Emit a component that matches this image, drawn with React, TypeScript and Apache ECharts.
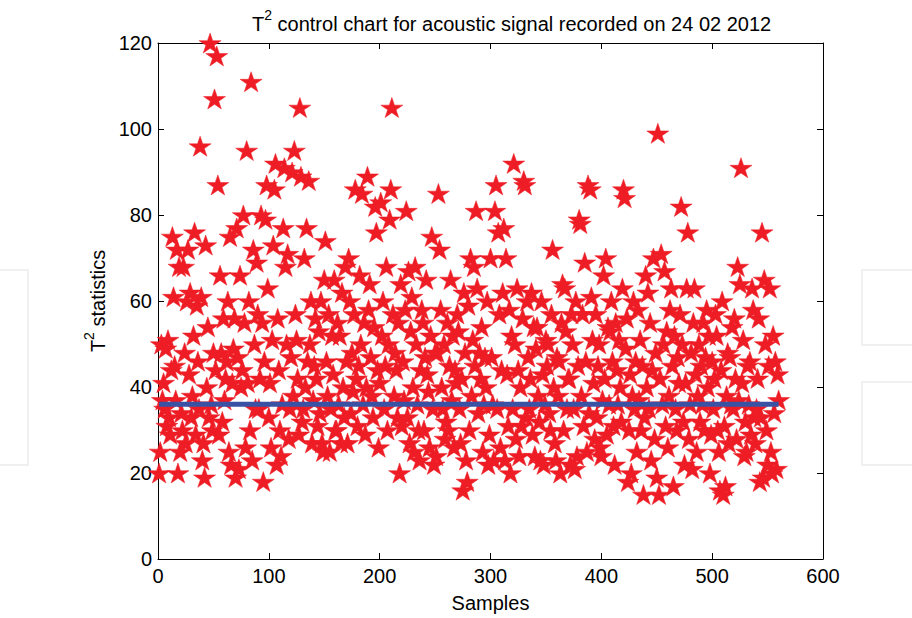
import React, { useEffect, useRef } from "react";
import * as echarts from "echarts";

// T² statistic per sample (index 1..560)
const t2Values: number[] = [
  20, 25, 50, 37, 41, 35, 49, 31, 51, 33,
  29, 44, 75, 61, 45, 37, 72, 20, 68, 25,
  34, 30, 68, 48, 27, 60, 72, 43, 62, 33,
  38, 52, 76, 29, 59, 46, 35, 96, 61, 23,
  27, 19, 73, 40, 54, 33, 120, 36, 30, 48,
  107, 44, 117, 87, 29, 66, 48, 32, 56, 37,
  42, 46, 60, 25, 75, 22, 41, 49, 56, 19,
  77, 47, 21, 66, 40, 44, 80, 55, 26, 95,
  41, 60, 30, 111, 23, 72, 50, 35, 69, 57,
  35, 42, 80, 55, 18, 46, 79, 87, 63, 33,
  41, 26, 51, 73, 86, 92, 22, 56, 44, 30,
  24, 36, 77, 91, 68, 50, 71, 28, 35, 47,
  90, 38, 95, 57, 51, 42, 29, 105, 89, 32,
  35, 70, 40, 77, 46, 88, 50, 60, 27, 37,
  45, 56, 42, 31, 53, 34, 60, 27, 25, 65,
  74, 46, 38, 57, 25, 35, 52, 43, 65, 30,
  30, 55, 36, 52, 27, 62, 40, 33, 68, 46,
  27, 70, 60, 34, 48, 39, 57, 86, 42, 31,
  45, 66, 50, 85, 36, 55, 29, 40, 89, 58,
  64, 47, 38, 33, 54, 82, 76, 44, 26, 41,
  83, 52, 60, 35, 45, 68, 30, 50, 79, 86,
  105, 57, 38, 48, 44, 33, 55, 20, 64, 31,
  46, 37, 58, 81, 33, 67, 27, 53, 61, 40,
  25, 68, 50, 36, 30, 23, 44, 58, 55, 30,
  47, 65, 43, 39, 26, 52, 75, 35, 22, 48,
  24, 48, 85, 72, 58, 40, 35, 50, 28, 32,
  55, 30, 45, 65, 37, 52, 26, 44, 41, 57,
  53, 35, 27, 42, 16, 62, 48, 23, 18, 59,
  30, 70, 38, 51, 68, 45, 81, 63, 34, 48,
  42, 54, 25, 36, 47, 40, 60, 22, 29, 70,
  47, 36, 23, 81, 87, 35, 76, 57, 26, 44,
  62, 77, 23, 70, 43, 31, 58, 20, 52, 35,
  92, 50, 28, 63, 44, 24, 40, 31, 56, 88,
  87, 33, 60, 47, 35, 42, 62, 29, 54, 24,
  49, 54, 38, 32, 23, 60, 43, 22, 36, 51,
  45, 50, 34, 30, 57, 72, 40, 27, 23, 47,
  38, 46, 20, 55, 64, 30, 63, 53, 35, 42,
  42, 22, 57, 50, 35, 21, 60, 24, 45, 79,
  78, 38, 57, 31, 69, 46, 25, 87, 34, 86,
  61, 51, 41, 28, 57, 33, 45, 50, 26, 24,
  37, 66, 42, 70, 29, 54, 36, 53, 60, 46,
  31, 22, 55, 44, 36, 51, 40, 32, 63, 86,
  84, 49, 56, 18, 30, 43, 20, 38, 60, 35,
  46, 25, 58, 37, 51, 30, 45, 15, 33, 66,
  40, 62, 35, 55, 23, 44, 70, 28, 48, 19,
  99, 15, 42, 71, 36, 50, 67, 31, 53, 26,
  38, 58, 63, 45, 17, 52, 35, 30, 47, 41,
  57, 82, 50, 32, 22, 41, 63, 76, 28, 36,
  48, 21, 55, 63, 43, 25, 38, 50, 32, 45,
  36, 55, 30, 47, 58, 40, 52, 20, 29, 46,
  35, 42, 57, 52, 30, 25, 16, 44, 60, 15,
  31, 17, 38, 48, 27, 47, 36, 54, 35, 56,
  42, 28, 68, 37, 64, 91, 41, 51, 24, 32,
  25, 45, 36, 46, 29, 63, 58, 33, 27, 35,
  42, 56, 18, 33, 76, 19, 65, 50, 30, 22,
  45, 63, 25, 20, 52, 34, 46, 21, 43, 37,
];

// Control limit line (start sample, end sample, level)
const limitSamples: number[] = [1, 560];
const limitLevel = 36;

const xTicks = { min: 0, max: 600, interval: 100 };
const yTicks = { min: 0, max: 120, interval: 20 };

const STAR =
  "path://M50,0 L61.23,34.55 L97.55,34.55 L68.17,55.9 L79.39,90.45 L50,69.1 L20.61,90.45 L31.83,55.9 L2.45,34.55 L38.77,34.55 Z";

const FONT = "'Liberation Sans', Arial, Helvetica, sans-serif";

export default function App() {
  const ref = useRef<HTMLDivElement>(null);

  useEffect(() => {
    if (!ref.current) return;
    const chart = echarts.init(ref.current, undefined, { renderer: "svg" });

    const scatterData = t2Values.map((v, i) => [i + 1, v]);
    const lineData = limitSamples.map((s) => [s, limitLevel]);

    const axisCommon = {
      axisLine: { show: true, onZero: false, lineStyle: { color: "#000", width: 1 } },
      axisTick: { show: true, inside: true, length: 6, lineStyle: { color: "#000" } },
      splitLine: { show: false },
    };

    const richName = {
      n: { fontSize: 20, fontWeight: "normal", fontFamily: FONT, color: "#000", lineHeight: 26, verticalAlign: "bottom" },
      s: { fontSize: 14, fontWeight: "normal", fontFamily: FONT, color: "#000", lineHeight: 26, verticalAlign: "top" },
    };

    chart.setOption({
      animation: false,
      backgroundColor: "#fff",
      title: {
        text: "{n|T}{s|2}{n| control chart for acoustic signal recorded on 24 02 2012}",
        left: 247,
        top: 3,
        textStyle: { fontWeight: "normal", rich: richName },
      },
      grid: { left: 158, right: 89, top: 43, bottom: 53, containLabel: false },
      xAxis: [
        {
          type: "value",
          ...xTicks,
          position: "bottom",
          ...axisCommon,
          axisLabel: { show: true, margin: 7, fontSize: 20, fontFamily: FONT, color: "#000" },
          name: "Samples",
          nameLocation: "middle",
          nameGap: 34,
          nameTextStyle: { fontSize: 20, fontFamily: FONT, color: "#000" },
        },
        {
          type: "value",
          ...xTicks,
          position: "top",
          ...axisCommon,
          axisLabel: { show: false },
        },
      ],
      yAxis: [
        {
          type: "value",
          ...yTicks,
          position: "left",
          ...axisCommon,
          axisLabel: { show: true, margin: 6, fontSize: 20, fontFamily: FONT, color: "#000" },
          name: "{n|T}{s|2}{n| statistics}",
          nameLocation: "middle",
          nameGap: 50,
          nameTextStyle: { rich: richName },
        },
        {
          type: "value",
          ...yTicks,
          position: "right",
          ...axisCommon,
          axisLabel: { show: false },
        },
      ],
      graphic: [
        {
          type: "rect",
          z: -10,
          silent: true,
          shape: { x: -2, y: 270, width: 30, height: 195 },
          style: { fill: "none", stroke: "#ececec", lineWidth: 1.5 },
        },
        {
          type: "polyline",
          z: -10,
          silent: true,
          shape: { points: [[914, 270], [862, 270], [862, 345], [914, 345]] },
          style: { fill: "none", stroke: "#ececec", lineWidth: 1.5 },
        },
        {
          type: "polyline",
          z: -10,
          silent: true,
          shape: { points: [[914, 382], [862, 382], [862, 465], [914, 465]] },
          style: { fill: "none", stroke: "#ececec", lineWidth: 1.5 },
        },
      ],
      series: [
        {
          type: "scatter",
          xAxisIndex: 0,
          yAxisIndex: 0,
          data: scatterData,
          symbol: STAR,
          symbolSize: [22, 21],
          symbolKeepAspect: true,
          itemStyle: { color: "#ee1d25", borderColor: "#ee1d25", borderWidth: 0.5, opacity: 1 },
          z: 2,
        },
        {
          type: "line",
          xAxisIndex: 0,
          yAxisIndex: 0,
          data: lineData,
          symbol: "none",
          lineStyle: { color: "#3a52a3", width: 5 },
          z: 3,
        },
      ],
    });

    return () => chart.dispose();
  }, []);

  return <div ref={ref} style={{ width: 912, height: 618, position: "absolute", left: 0, top: 0 }} />;
}
